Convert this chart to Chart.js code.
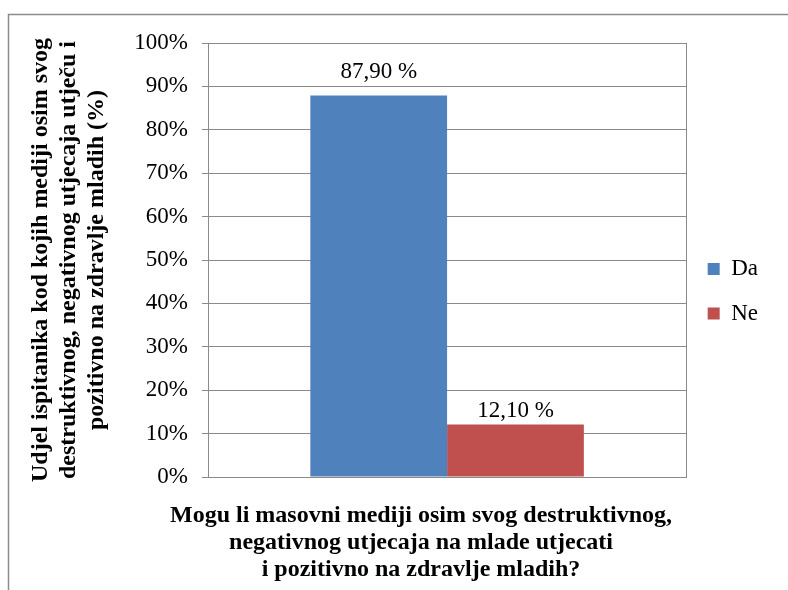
<!DOCTYPE html>
<html>
<head>
<meta charset="utf-8">
<script src="https://cdn.jsdelivr.net/npm/chart.js@4.4.0/dist/chart.umd.min.js"></script>
<style>
  body { margin: 0; background: #fff; }
  #wrap { width: 788px; height: 590px; }
</style>
</head>
<body>
<div id="wrap"><canvas id="chart" width="788" height="590"></canvas></div>
<script>
// podaci
const categories = [""];
const seriesNames = ["Da", "Ne"];
const daValues = [87.9];
const neValues = [12.1];
const seriesColors = ["#4F81BD", "#C0504D"];

const yTitle = [
    "Udjel ispitanika kod kojih mediji osim svog",
    "destruktivnog, negativnog utjecaja utječu i",
    "pozitivno na zdravlje mladih (%)",
];
const xTitle = [
    "Mogu li masovni mediji osim svog destruktivnog,",
    "negativnog utjecaja na mlade utjecati",
    "i pozitivno na zdravlje mladih?",
];

const serif = "'Liberation Serif', 'Times New Roman', serif";
const gridGray = "#8a8a8a";

// okvir oko grafikona (lijevo i gore)
const framePlugin = {
    id: "frame",
    beforeDraw(chart) {
        const ctx = chart.ctx;
        ctx.save();
        ctx.strokeStyle = "#8c8c8c";
        ctx.lineWidth = 1.5;
        ctx.beginPath();
        ctx.moveTo(8.5, 590);
        ctx.lineTo(8.5, 14.5);
        ctx.lineTo(788, 14.5);
        ctx.stroke();
        ctx.restore();
    },
};

// oznake vrijednosti iznad stupaca
const valueLabels = {
    id: "valueLabels",
    afterDatasetsDraw(chart, args, opts) {
        const ctx = chart.ctx;
        ctx.save();
        ctx.font = "23px " + serif;
        ctx.fillStyle = "#000";
        ctx.textAlign = "center";
        ctx.textBaseline = "alphabetic";
        chart.data.datasets.forEach((ds, i) => {
            const meta = chart.getDatasetMeta(i);
            meta.data.forEach((bar, j) => {
                const txt = ds.data[j].toFixed(2).replace(".", ",") + " %";
                ctx.fillText(txt, bar.x, bar.y - opts.offsets[i]);
            });
        });
        ctx.restore();
    },
};

// naslov x osi (Excel ga ne centrira tocno na podrucje crtanja)
const xTitlePlugin = {
    id: "xTitle",
    afterDraw(chart, args, opts) {
        const ctx = chart.ctx;
        const area = chart.chartArea;
        ctx.save();
        ctx.font = "bold 24px " + serif;
        ctx.fillStyle = "#000";
        ctx.textAlign = "center";
        ctx.textBaseline = "alphabetic";
        opts.lines.forEach((line, i) => {
            ctx.fillText(line, opts.centerX, area.bottom + opts.firstBaseline + i * opts.lineGap);
        });
        ctx.restore();
    },
};

const chart = new Chart(document.getElementById("chart").getContext("2d"), {
    type: "bar",
    data: {
        labels: categories,
        datasets: [
            {
                label: seriesNames[0],
                data: daValues,
                backgroundColor: seriesColors[0],
                borderWidth: 0,
            },
            {
                label: seriesNames[1],
                data: neValues,
                backgroundColor: seriesColors[1],
                borderWidth: 0,
            },
        ],
    },
    options: {
        responsive: false,
        animation: false,
        devicePixelRatio: 1,
        categoryPercentage: 0.572,
        barPercentage: 1,
        layout: {
            padding: { left: 27, top: 43, right: 20, bottom: 50.5 },
        },
        scales: {
            x: {
                ticks: { display: false },
                grid: { color: gridGray, drawTicks: false, offset: true },
                border: { color: gridGray },
                afterFit: (s) => { s.height = 62.5; },
            },
            y: {
                min: 0,
                max: 100,
                ticks: {
                    stepSize: 10,
                    callback: (v) => v + "%",
                    color: "#000",
                    font: { family: serif, size: 23 },
                    padding: 14,
                },
                grid: { color: gridGray, tickLength: 6 },
                border: { color: gridGray },
                title: {
                    display: true,
                    text: yTitle,
                    color: "#000",
                    font: { family: serif, size: 24, weight: "bold", lineHeight: 1.17 },
                    padding: { top: 0, bottom: 0 },
                },
                afterFit: (s) => { s.width = 181; },
            },
        },
        plugins: {
            legend: {
                position: "right",
                labels: {
                    boxWidth: 12,
                    boxHeight: 12,
                    padding: 21.5,
                    color: "#000",
                    font: { family: serif, size: 23 },
                },
            },
            tooltip: { enabled: false },
            valueLabels: { offsets: [18, 7] },
            xTitle: { lines: xTitle, centerX: 421, firstBaseline: 45, lineGap: 27 },
        },
    },
    plugins: [framePlugin, valueLabels, xTitlePlugin],
});
</script>
</body>
</html>
